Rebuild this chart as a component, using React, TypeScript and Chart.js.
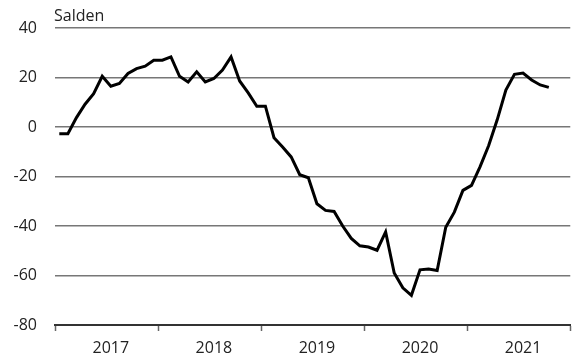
import React, { useEffect, useRef } from "react";
import { Chart, registerables } from "chart.js";

Chart.register(...registerables);

const YEARS = ["2017", "2018", "2019", "2020", "2021"];
const MONTHS = ["01", "02", "03", "04", "05", "06", "07", "08", "09", "10", "11", "12"];
const CATEGORIES = YEARS.flatMap((y) => MONTHS.map((m) => `${y}-${m}`));

const SALDEN = [
  -2.7, -2.7, 3.8, 9.2, 13.5, 20.5, 16.5, 17.6, 21.6, 23.6, 24.6, 27,
  27, 28.3, 20.5, 18.2, 22.3, 18.2, 19.6, 23, 28.3, 18.6, 13.8, 8.4,
  8.4, -4.3, -8.1, -12.1, -19.3, -20.5, -31, -33.7, -34.1, -40, -45, -48,
  -48.5, -49.8, -42.4, -59, -65, -68, -57.7, -57.4, -58, -40.5, -34.4, -25.6,
  -23.6, -16, -7.5, 3, 14.9, 21.3, 21.8, 19, 17, 16,
];

const Y_MIN = -80;
const Y_MAX = 40;
const Y_STEP = 20;
const UNIT_LABEL = "Salden";

const FONT = "'Open Sans', 'Noto Sans', sans-serif";

export default function App() {
  const ref = useRef<HTMLCanvasElement | null>(null);

  useEffect(() => {
    if (!ref.current) return;
    const titlePlugin = {
      id: "unitLabel",
      afterDraw(chart: any) {
        const { ctx, chartArea } = chart;
        ctx.save();
        ctx.font = `16px ${FONT}`;
        ctx.fillStyle = "#222";
        ctx.textAlign = "left";
        ctx.textBaseline = "alphabetic";
        ctx.fillText(UNIT_LABEL, chartArea.left - 1, 21);
        ctx.restore();
      },
    };
    const chart = new Chart(ref.current, {
      type: "line",
      data: {
        labels: CATEGORIES,
        datasets: [
          {
            label: UNIT_LABEL,
            data: SALDEN,
            borderColor: "#000",
            borderWidth: 3,
            pointRadius: 0,
            tension: 0,
            fill: false,
            borderJoinStyle: "miter",
          },
        ],
      },
      options: {
        responsive: false,
        animation: false,
        layout: { padding: { top: 28, right: 2, left: 0, bottom: 0 } },
        plugins: {
          legend: { display: false },
          title: { display: false },
          tooltip: { enabled: false },
        },
        scales: {
          x: {
            type: "category",
            offset: true,
            afterFit(scale: any) {
              scale.height = 38;
            },
            grid: {
              offset: true,
              drawOnChartArea: false,
              drawTicks: true,
              tickLength: 6,
              tickWidth: 1.5,
              tickColor: (ctx: any) =>
                ctx.index === undefined || ctx.index % 12 === 0 ? "#666" : "rgba(0,0,0,0)",
            },
            border: { display: true, color: "#333", width: 2 },
            ticks: {
              autoSkip: false,
              maxRotation: 0,
              minRotation: 0,
              padding: 8,
              color: "#222",
              font: { family: FONT, size: 16 },
              callback: (_v: any, idx: number) =>
                idx % 12 === 6 ? YEARS[Math.floor(idx / 12)] : "",
            },
          },
          y: {
            min: Y_MIN,
            max: Y_MAX,
            afterFit(scale: any) {
              scale.width = 55;
            },
            border: { display: false },
            grid: {
              color: "#777",
              lineWidth: 1.5,
              drawTicks: false,
            },
            ticks: {
              stepSize: Y_STEP,
              padding: 18,
              color: "#222",
              font: { family: FONT, size: 16 },
            },
          },
        },
      },
      plugins: [titlePlugin],
    });
    return () => chart.destroy();
  }, []);

  return (
    <div style={{ position: "absolute", left: 0, top: 0, width: 574, height: 363, background: "#fff" }}>
      <canvas ref={ref} width={574} height={363} />
    </div>
  );
}
